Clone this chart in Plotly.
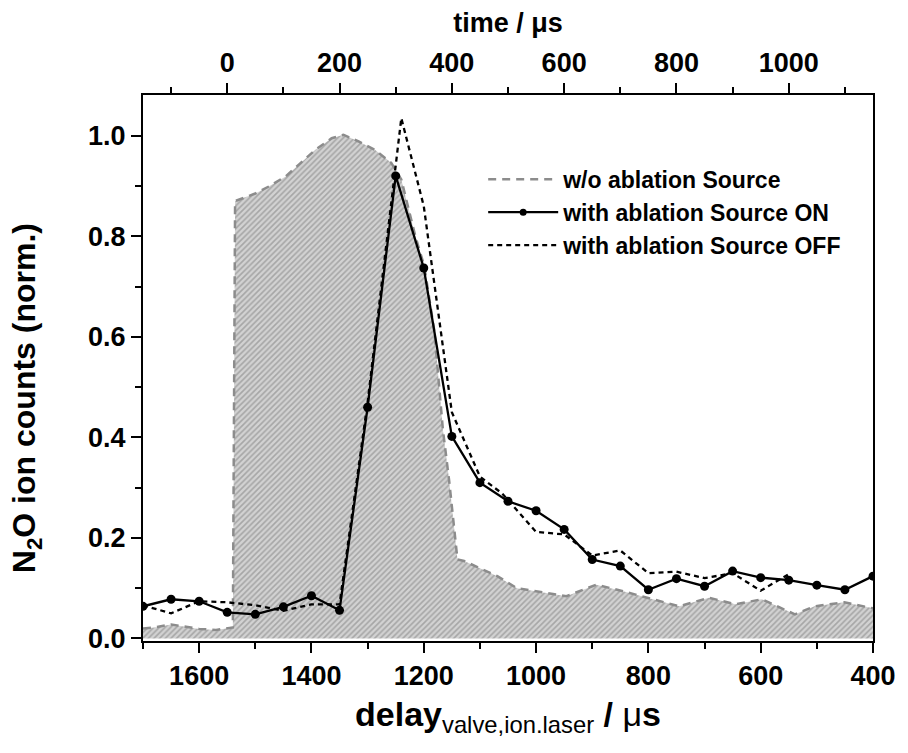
import plotly.graph_objects as go

# ---------------- data ----------------
# w/o ablation source (grey hatched area)
wo_delay = [1700, 1680, 1650, 1620, 1600, 1570, 1550, 1540, 1536, 1500, 1476, 1446, 1423,
            1393, 1364, 1343, 1317, 1287, 1258, 1240, 1215, 1199, 1181, 1166, 1155,
            1143, 1140, 1128, 1100, 1069, 1034, 981, 946, 893, 845, 792, 745, 692,
            645, 598, 539, 504, 451, 404, 400]
wo_value = [0.020, 0.022, 0.028, 0.022, 0.019, 0.017, 0.020, 0.022, 0.870, 0.885, 0.899,
            0.919, 0.942, 0.972, 0.995, 1.002, 0.989, 0.972, 0.946, 0.913, 0.800, 0.740,
            0.610, 0.416, 0.316, 0.183, 0.157, 0.154, 0.140, 0.124, 0.100, 0.091, 0.084,
            0.107, 0.094, 0.078, 0.064, 0.081, 0.068, 0.078, 0.048, 0.064, 0.072, 0.061,
            0.060]

# with ablation source ON
on_delay = [1700, 1650, 1600, 1550, 1500, 1450, 1400, 1350, 1300, 1250, 1200, 1150, 1100,
            1050, 1000, 950, 900, 850, 800, 750, 700, 650, 600, 550, 500, 450, 400]
on_value = [0.064, 0.078, 0.074, 0.052, 0.048, 0.063, 0.085, 0.056, 0.460, 0.920, 0.737,
            0.402, 0.310, 0.273, 0.254, 0.217, 0.157, 0.144, 0.097, 0.119, 0.104, 0.134,
            0.121, 0.116, 0.106, 0.097, 0.124]

# with ablation source OFF
off_delay = [1700, 1650, 1600, 1550, 1500, 1450, 1400, 1350, 1300, 1240, 1200, 1150, 1100,
             1060, 1000, 950, 900, 850, 800, 750, 700, 650, 600, 550]
off_value = [0.066, 0.050, 0.074, 0.072, 0.066, 0.055, 0.068, 0.068, 0.470, 1.035, 0.860,
             0.450, 0.322, 0.288, 0.212, 0.207, 0.165, 0.175, 0.130, 0.133, 0.120, 0.130,
             0.095, 0.128]

names = ["w/o ablation Source", "with ablation Source ON", "with ablation Source OFF"]

bottom_ticks = [1600, 1400, 1200, 1000, 800, 600, 400]
top_ticks = [0, 200, 400, 600, 800, 1000]
y_ticks = [0.0, 0.2, 0.4, 0.6, 0.8, 1.0]

FONT2 = "Liberation Sans, Arial, sans-serif"

fig = go.Figure()

# grey hatched area
fig.add_trace(go.Scatter(
    x=wo_delay, y=wo_value, mode="lines", fill="tozeroy",
    line=dict(color="#8c8c8c", width=2.5, dash="8px,6px"),
    fillcolor="#cccccc",
    fillpattern=dict(shape="/", fgcolor="#7a7a7a", bgcolor="#d2d2d2", size=4, solidity=0.4),
    showlegend=False, hoverinfo="skip"))

fig.add_trace(go.Scatter(
    x=off_delay, y=off_value, mode="lines",
    line=dict(color="black", width=2.3, dash="5px,4px"),
    showlegend=False))

fig.add_trace(go.Scatter(
    x=on_delay, y=on_value, mode="lines+markers",
    line=dict(color="black", width=2.3),
    marker=dict(color="black", size=9),
    showlegend=False))

# legend entries
fig.add_trace(go.Scatter(x=[None], y=[None], mode="lines", name=names[0],
                         line=dict(color="#8c8c8c", width=2.5, dash="8px,6px")))
fig.add_trace(go.Scatter(x=[None], y=[None], mode="lines+markers", name=names[1],
                         line=dict(color="black", width=2.3),
                         marker=dict(color="black", size=7)))
fig.add_trace(go.Scatter(x=[None], y=[None], mode="lines", name=names[2],
                         line=dict(color="black", width=2.3, dash="5px,4px")))

# dummy trace for the top (time) axis
fig.add_trace(go.Scatter(x=[None], y=[None], xaxis="x2", showlegend=False))

axis_common = dict(showline=True, linecolor="black", linewidth=2, showgrid=False,
                   zeroline=False, ticks="outside", tickcolor="black", tickwidth=2,
                   ticklen=10)

fig.update_layout(
    width=908, height=753,
    margin=dict(l=143, r=29, t=95, b=112),
    paper_bgcolor="white", plot_bgcolor="white",
    font=dict(family=FONT2, color="black"),
    xaxis=dict(**axis_common, range=[1700, 400], tickvals=bottom_ticks,
               ticktext=[str(v) for v in bottom_ticks],
               minor=dict(dtick=100, ticks="outside", ticklen=6, tickwidth=2, tickcolor="black",
                          tick0=0),
               tickfont=dict(size=27, family=FONT2, weight="bold"),
               mirror=False,
               title=dict(text="<b>delay</b><sub>valve,ion.laser</sub><b> / </b>μ<b>s</b>",
                          font=dict(size=34, family=FONT2), standoff=12)),
    xaxis2=dict(**axis_common, overlaying="x", side="top", anchor="y",
                range=[-150, 1150], tickvals=top_ticks,
                minor=dict(dtick=100, ticks="outside", ticklen=6, tickwidth=2, tickcolor="black",
                           tick0=0),
                tickfont=dict(size=27, family=FONT2, weight="bold"),
                title=dict(text="time / μs", font=dict(size=27, family=FONT2, weight="bold"),
                           standoff=8)),
    yaxis=dict(**axis_common, range=[-0.005, 1.081], tickvals=y_ticks,
               ticktext=["0.0", "0.2", "0.4", "0.6", "0.8", "1.0"],
               minor=dict(dtick=0.1, ticks="outside", ticklen=6, tickwidth=2, tickcolor="black"),
               tickfont=dict(size=27, family=FONT2, weight="bold"),
               mirror=True),
    legend=dict(x=0.466, y=0.885, xanchor="left", yanchor="top", bgcolor="rgba(0,0,0,0)",
                font=dict(size=23, family=FONT2, weight="bold"), itemwidth=70,
                tracegroupgap=0),
)

# y-axis title as rotated text
fig.add_annotation(text="N<sub>2</sub>O ion counts (norm.)", textangle=-90,
                   xref="paper", yref="paper", x=-0.16, y=0.445,
                   xanchor="center", yanchor="middle", showarrow=False,
                   font=dict(size=32, family=FONT2, weight="bold", color="black"))

fig.write_html("out.html")
